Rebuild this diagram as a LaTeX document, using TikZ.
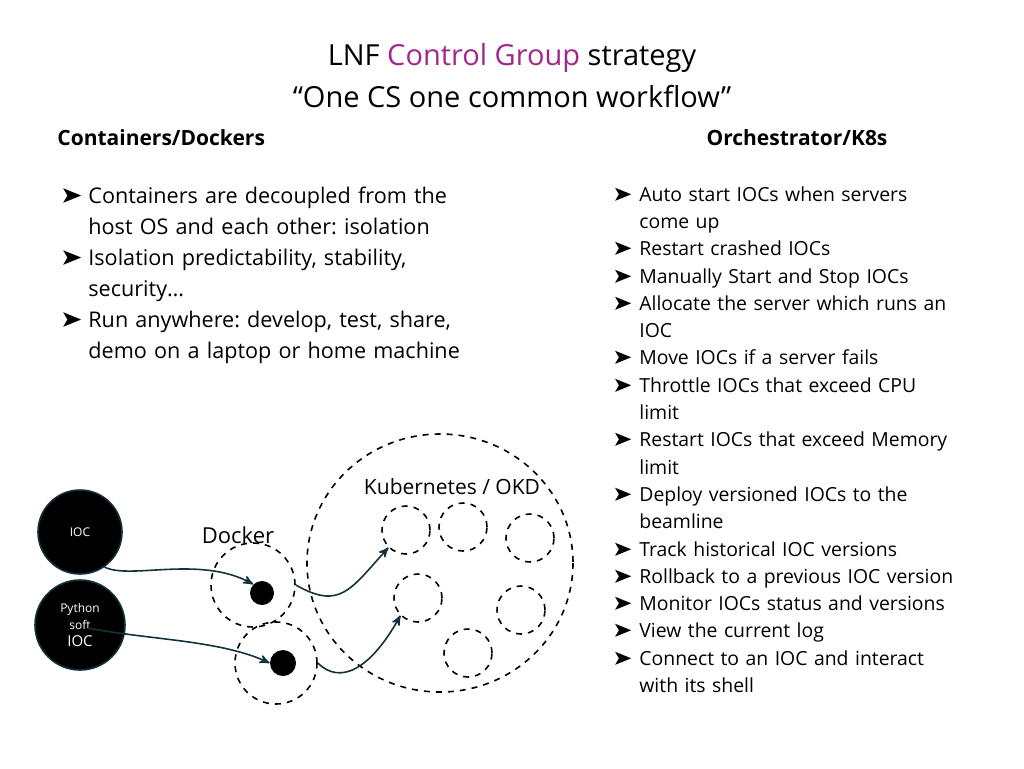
\documentclass[tikz,border=0pt]{standalone}
\usepackage{fontspec}
\setmainfont{Open Sans}
\usepackage{pifont}
\usetikzlibrary{positioning,arrows}
\definecolor{lnfpurple}{RGB}{160,40,140}
\definecolor{iocedge}{RGB}{20,50,60}
\newcommand\bul[1]{\makebox[#1][l]{\ding{228}}}
\newcommand\itm[2][13pt]{\hangindent=#1\hangafter=1\noindent\bul{#1}#2\par}
\frenchspacing
\tikzset{
    >=stealth',
    ioc/.style={
        circle,
        fill=black,
        draw=iocedge, thick,
        text=white,
        align=center,
        inner sep=0pt
    },
    pod/.style={
        circle,
        draw, dashed, thick,
        inner sep=0pt
    },
    proc/.style={circle, fill=black, inner sep=0pt},
    flow/.style={draw=iocedge, thick, ->},
    head/.style={font=\bfseries\fontsize{10.5}{12}\selectfont, inner sep=0pt}
}
\begin{document}
\begin{tikzpicture}[x=0.5pt,y=-0.5pt]
    \useasboundingbox (0,0) rectangle (1024,768);
    % title
    \node[font=\fontsize{14.5}{21}\selectfont, align=center] (title) at (512,76)
        {LNF \textcolor{lnfpurple}{Control Group} strategy\\``One CS one common workflow''};
    \node[head, anchor=west] (lefthead) at (57,138) {Containers/Dockers};
    \node[head] (righthead) at (797,138) {Orchestrator/K8s};

    % lists
    \node[anchor=north west, inner sep=0pt, text width=230pt,
          font=\fontsize{10.8}{15.5}\selectfont] (docklist) at (62,187) {
        \itm{Containers are decoupled from the\newline host OS and each other: isolation}
        \itm{Isolation predictability, stability,\newline security…}
        \itm{Run anywhere: develop, test, share,\newline demo on a laptop or home machine}
    };
    \node[anchor=north west, inner sep=0pt, text width=200pt,
          font=\fontsize{9.7}{13.65}\selectfont] (k8slist) at (614,186) {
        \itm[12.5pt]{Auto start IOCs when servers\newline come up}
        \itm[12.5pt]{Restart crashed IOCs}
        \itm[12.5pt]{Manually Start and Stop IOCs}
        \itm[12.5pt]{Allocate the server which runs an\newline IOC}
        \itm[12.5pt]{Move IOCs if a server fails}
        \itm[12.5pt]{Throttle IOCs that exceed CPU\newline limit}
        \itm[12.5pt]{Restart IOCs that exceed Memory\newline limit}
        \itm[12.5pt]{Deploy versioned IOCs to the\newline beamline}
        \itm[12.5pt]{Track historical IOC versions}
        \itm[12.5pt]{Rollback to a previous IOC version}
        \itm[12.5pt]{Monitor IOCs status and versions}
        \itm[12.5pt]{View the current log}
        \itm[12.5pt]{Connect to an IOC and interact\newline with its shell}
    };

    % cluster
    \draw[dashed, thick] (440,563) ellipse [x radius=133, y radius=129];
    \node[font=\fontsize{10.5}{13}\selectfont] (k8s) at (452,487) {Kubernetes / OKD};
    \foreach \name/\px/\py in {p1/406/530, p2/463/527, p3/530/538,
                               p4/418/598, p5/521/610, p6/468/653}
        \node[pod, minimum size=24pt] (\name) at (\px,\py) {};

    % docker containers
    \node[font=\fontsize{11}{13}\selectfont] (docker) at (238,535) {Docker};
    \node[pod, minimum size=42pt] (d1) at (253,585) {};
    \node[pod, minimum size=41pt] (d2) at (276,663) {};
    \node[proc, minimum size=12pt] (c1) at (262,593) {};
    \node[proc, minimum size=13pt] (c2) at (283,663) {};

    % iocs
    \node[ioc, minimum size=42pt, font=\fontsize{6}{8}\selectfont] (ioc) at (80,532) {IOC};
    \node[ioc, minimum size=45pt, font=\fontsize{6}{8.5}\selectfont] (pyioc) at (80,625)
        {Python\\soft\\{\fontsize{7.5}{9}\selectfont IOC}};
    \coordinate (pystart) at (88,628);

    \draw[flow] (ioc.-55) .. controls (130,580) and (200,555) .. (c1.north west);
    \draw[flow] (pystart) .. controls (150,640) and (220,640) .. (c2.west);
    \draw[flow] (d1.east) .. controls (340,610) and (350,590) .. (p1.south west);
    \draw[flow] (d2.east) .. controls (340,685) and (370,670) .. (p4.south west);
\end{tikzpicture}
\end{document}
